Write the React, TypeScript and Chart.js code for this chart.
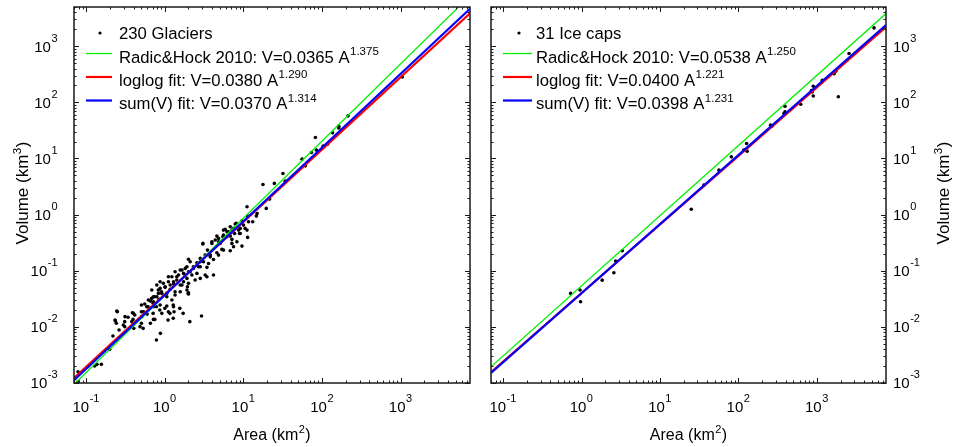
import React, { useEffect, useRef } from "react";
import { Chart, registerables } from "chart.js";

Chart.register(...registerables);

// ---------- axis limits & ticks ----------
const AREA_MIN = 0.07;
const AREA_MAX = 7600;
const VOLUME_MIN = 0.001;
const VOLUME_MAX = 5000;
const xTickExponents = [-1, 0, 1, 2, 3];
const yTickExponents = [-3, -2, -1, 0, 1, 2, 3];

// ---------- text ----------
const glacierLabel = "230 Glaciers";
const iceCapLabel = "31 Ice caps";
const fitNames = ["Radic&Hock 2010", "loglog fit", "sum(V) fit"];
const xTitleParts = ["Area (km", "2", ")"];
const yTitleParts = ["Volume (km", "3", ")"];

// ---------- fits (from legend) ----------
const glacierFitCoef = [0.0365, 0.038, 0.037];
const glacierFitExp = [1.375, 1.29, 1.314];
const iceCapFitCoef = [0.0538, 0.04, 0.0398];
const iceCapFitExp = [1.25, 1.221, 1.231];

// ---------- data: glaciers (km2, km3) ----------
const glacierArea = [
  1045, 214, 163, 163, 136, 82.2, 103, 117, 73.1, 84.5,
  55.6, 61.2, 31.8, 34.0, 17.7, 24.7, 21.5, 19.5, 11.1, 14.6,
  11.3, 11.6, 13.1, 10.0, 11.1, 11.3, 9.57, 8.09, 8.67, 7.71,
  9.1, 6.79, 7.48, 5.57, 6.17, 6.79, 5.48, 4.82, 7.13, 4.38,
  5.06, 3.97, 5.32, 6.79, 4.59, 3.49, 3.05, 3.26, 2.82, 3.78,
  3.10, 2.56, 2.82, 3.43, 4.16, 3.26, 2.31, 2.0, 2.10, 2.56,
  1.91, 1.82, 1.57, 1.73, 1.42, 1.94, 1.65, 2.0, 1.29, 1.11,
  1.17, 1.01, 0.871, 0.791, 1.06, 1.35, 1.57, 0.682, 0.828, 0.716,
  0.906, 0.746, 0.845, 0.656, 0.71, 0.612, 0.556, 0.504, 0.782, 1.0,
  0.863, 0.71, 0.596, 0.504, 0.415, 0.746, 0.656, 1.10, 1.28, 1.16,
  1.28, 1.31, 1.55, 1.71, 2.08, 1.98, 2.93, 0.879, 0.782, 0.504,
  0.53, 0.394, 0.309, 0.309, 0.262, 0.242, 0.249, 0.235, 0.341, 0.387,
  0.219, 0.403, 0.199, 0.156, 0.128, 0.137, 0.105, 0.0787, 0.0787, 14.9,
  9.57, 7.87, 7.13, 9.1, 10.5, 8.91, 6.46, 5.86, 5.57, 6.17,
  4.59, 4.82, 3.97, 3.05, 7.13, 8.26, 7.48, 5.57, 4.82, 3.78,
  4.16, 3.6, 2.82, 2.68, 2.31, 2.10, 1.91, 1.65, 2.0, 2.21,
  1.82, 1.49, 1.35, 1.23, 1.42, 1.73, 2.0, 1.57, 1.29, 1.11,
  0.959, 0.871, 1.01, 1.17, 1.35, 1.91, 2.0, 0.828, 0.916, 0.791,
  0.682, 0.716, 0.618, 0.59, 0.716, 0.871, 1.06, 1.23, 1.06, 1.29,
  1.11, 0.916, 0.535, 0.509, 0.399, 0.38, 0.312, 0.245, 0.233, 0.297,
  0.484, 0.716, 3.43, 2.82, 2.43,
];
const glacierVolume = [
  284, 57.5, 37.7, 35.1, 28.6, 23.7, 16.6, 18.0, 12.8, 14.1,
  9.73, 7.40, 5.41, 3.95, 3.45, 3.60, 1.89, 1.29, 1.38, 0.94,
  0.94, 0.745, 0.745, 0.65, 0.53, 0.393, 0.275, 0.697, 0.53, 0.462,
  0.462, 0.607, 0.568, 0.53, 0.494, 0.414, 0.403, 0.377, 0.362, 0.352,
  0.307, 0.307, 0.24, 0.227, 0.209, 0.233, 0.307, 0.19, 0.166, 0.177,
  0.145, 0.139, 0.118, 0.115, 0.0838, 0.0838, 0.118, 0.16, 0.096, 0.0897,
  0.0731, 0.110, 0.103, 0.0897, 0.0782, 0.0519, 0.0556, 0.0385, 0.0637, 0.0782,
  0.0556, 0.0519, 0.0485, 0.0556, 0.0395, 0.0369, 0.0423, 0.0453, 0.0395, 0.0344,
  0.0423, 0.0344, 0.0309, 0.0288, 0.0263, 0.0229, 0.0255, 0.0245, 0.0229, 0.0214,
  0.020, 0.0174, 0.0169, 0.0186, 0.0163, 0.0136, 0.0116, 0.0132, 0.0142, 0.0174,
  0.0245, 0.0186, 0.0214, 0.0174, 0.0124, 0.0395, 0.0156, 0.00767, 0.00583, 0.0116,
  0.00942, 0.0136, 0.0124, 0.0101, 0.00879, 0.0116, 0.0186, 0.0127, 0.0148, 0.0179,
  0.00687, 0.00942, 0.00398, 0.00215, 0.00201, 0.00215, 0.00196, 0.00159, 0.00106, 1.05,
  0.776, 0.678, 0.53, 0.568, 0.568, 0.462, 0.494, 0.546, 0.432, 0.403,
  0.414, 0.328, 0.328, 0.299, 0.307, 0.328, 0.267, 0.233, 0.19, 0.19,
  0.159, 0.135, 0.145, 0.118, 0.110, 0.145, 0.118, 0.103, 0.096, 0.0838,
  0.0838, 0.0838, 0.096, 0.0782, 0.0682, 0.0637, 0.0596, 0.0556, 0.0579, 0.0637,
  0.0596, 0.0637, 0.0506, 0.0466, 0.0423, 0.0453, 0.0406, 0.0453, 0.0395, 0.0344,
  0.0322, 0.0281, 0.0301, 0.0229, 0.0229, 0.0245, 0.0235, 0.0301, 0.0344, 0.0229,
  0.0186, 0.0174, 0.0186, 0.0152, 0.0174, 0.0124, 0.0152, 0.0191, 0.0132, 0.0108,
  0.0101, 0.0136, 0.0782, 0.0731, 0.0682,
];

// ---------- data: ice caps (km2, km3) ----------
const iceCapArea = [
  5350, 2570, 1740, 1660, 1875, 1175, 900, 871, 900, 621,
  392, 392, 380, 257, 269, 127, 117, 129, 81, 56.4,
  36.3, 25, 3.3, 2.72, 2.58, 1.83, 0.955, 0.724, 0.97, 123, 851,
];
const iceCapVolume = [
  2120, 741, 359, 324, 126, 248, 194, 153, 130, 92.7,
  85, 67.6, 63, 39.3, 38, 18.5, 14.1, 13.5, 10.7, 6.2,
  3.35, 1.25, 0.227, 0.149, 0.092, 0.068, 0.0453, 0.0395, 0.028, 14.5, 162,
];

// ---------- styles ----------
const FONT = '"Liberation Sans", Arial, Helvetica, sans-serif';
const FIT_COLORS = ["#00f000", "#ff0000", "#0000ff"];
const FIT_WIDTHS = [1.3, 2.2, 2.2];
const AXIS_COLOR = "#1a1a1a";
const TICK_FONT = 15;
const TICK_SUP = 11;
const LEGEND_FONT = 16.7;
const LEGEND_SUP = 11.5;

type Seg = { t: string; sup?: boolean };

function segsWidth(ctx: CanvasRenderingContext2D, segs: Seg[], size: number, supSize: number) {
  let w = 0;
  for (const s of segs) {
    ctx.font = `${s.sup ? supSize : size}px ${FONT}`;
    w += ctx.measureText(s.t).width + (s.sup ? 1 : 0);
  }
  return w;
}

function drawSegs(
  ctx: CanvasRenderingContext2D,
  segs: Seg[],
  x: number,
  y: number,
  size: number,
  supSize: number,
  raise: number,
  align: "left" | "center" | "right"
) {
  const w = segsWidth(ctx, segs, size, supSize);
  let cx = align === "left" ? x : align === "center" ? x - w / 2 : x - w;
  ctx.textAlign = "left";
  ctx.textBaseline = "alphabetic";
  for (const s of segs) {
    ctx.font = `${s.sup ? supSize : size}px ${FONT}`;
    ctx.fillText(s.t, cx + (s.sup ? 0.5 : 0), s.sup ? y - raise : y);
    cx += ctx.measureText(s.t).width + (s.sup ? 1 : 0);
  }
}

interface PanelSpec {
  left: number;
  width: number;
  padding: { left: number; right: number; top: number; bottom: number };
  ySide: "left" | "right";
  yLabelX: number;
  yTitleX: number;
  legendDotX: number;
  legendLineX0: number;
  legendLineX1: number;
  legendTextX: number;
  pointLabel: string;
  area: number[];
  volume: number[];
  coef: number[];
  expo: number[];
}

const LEGEND_BASELINES = [38.5, 62.5, 85.8, 109.3];
const LEGEND_LINE_Y = [33, 53.5, 77, 100.5];

function makePlugin(spec: PanelSpec) {
  return {
    id: "matlabAxes",
    afterDraw(chart: any) {
      const ctx: CanvasRenderingContext2D = chart.ctx;
      const a = chart.chartArea;
      const xs = chart.scales.x;
      const ys = chart.scales.y;
      ctx.save();
      ctx.fillStyle = "#000";
      ctx.strokeStyle = AXIS_COLOR;

      // ticks (inward, all four sides)
      ctx.lineWidth = 1;
      ctx.beginPath();
      const xLo = Math.floor(Math.log10(AREA_MIN));
      const xHi = Math.ceil(Math.log10(AREA_MAX));
      for (let e = xLo; e <= xHi; e++) {
        for (let k = 1; k <= 9; k++) {
          const v = k * Math.pow(10, e);
          if (v < AREA_MIN || v > AREA_MAX) continue;
          const px = Math.round(xs.getPixelForValue(v)) + 0.5;
          const len = k === 1 ? 5 : 2.5;
          ctx.moveTo(px, a.bottom);
          ctx.lineTo(px, a.bottom - len);
          ctx.moveTo(px, a.top);
          ctx.lineTo(px, a.top + len);
        }
      }
      const yLo = Math.floor(Math.log10(VOLUME_MIN));
      const yHi = Math.ceil(Math.log10(VOLUME_MAX));
      for (let e = yLo; e <= yHi; e++) {
        for (let k = 1; k <= 9; k++) {
          const v = k * Math.pow(10, e);
          if (v < VOLUME_MIN || v > VOLUME_MAX) continue;
          const py = Math.round(ys.getPixelForValue(v)) + 0.5;
          const len = k === 1 ? 5 : 2.5;
          ctx.moveTo(a.left, py);
          ctx.lineTo(a.left + len, py);
          ctx.moveTo(a.right, py);
          ctx.lineTo(a.right - len, py);
        }
      }
      ctx.stroke();

      // box
      ctx.lineWidth = 1.5;
      ctx.strokeRect(a.left, a.top, a.right - a.left, a.bottom - a.top);

      // x tick labels
      for (const e of xTickExponents) {
        const px = xs.getPixelForValue(Math.pow(10, e));
        drawSegs(ctx, [{ t: "10" }, { t: String(e), sup: true }], px, 411.7, TICK_FONT, TICK_SUP, 9.5, "center");
      }
      // y tick labels
      for (const e of yTickExponents) {
        const py = ys.getPixelForValue(Math.pow(10, e));
        drawSegs(
          ctx,
          [{ t: "10" }, { t: String(e), sup: true }],
          spec.yLabelX,
          py + 5.4,
          TICK_FONT,
          TICK_SUP,
          10,
          spec.ySide === "left" ? "right" : "left"
        );
      }

      // axis titles
      const xTitle: Seg[] = [{ t: xTitleParts[0] }, { t: xTitleParts[1], sup: true }, { t: xTitleParts[2] }];
      drawSegs(ctx, xTitle, (a.left + a.right) / 2, 439.5, 16, 11, 7, "center");
      const yTitle: Seg[] = [{ t: yTitleParts[0] }, { t: yTitleParts[1], sup: true }, { t: yTitleParts[2] }];
      ctx.save();
      ctx.translate(spec.yTitleX, (a.top + a.bottom) / 2 - 2);
      ctx.rotate(-Math.PI / 2);
      drawSegs(ctx, yTitle, 0, 0, 17, 11.5, 7.5, "center");
      ctx.restore();

      // legend
      ctx.fillStyle = "#000";
      ctx.beginPath();
      ctx.arc(spec.legendDotX, LEGEND_LINE_Y[0], 1.6, 0, Math.PI * 2);
      ctx.fill();
      drawSegs(ctx, [{ t: spec.pointLabel }], spec.legendTextX, LEGEND_BASELINES[0], LEGEND_FONT, LEGEND_SUP, 7.5, "left");
      for (let i = 0; i < 3; i++) {
        ctx.strokeStyle = FIT_COLORS[i];
        ctx.lineWidth = FIT_WIDTHS[i];
        ctx.beginPath();
        ctx.moveTo(spec.legendLineX0, LEGEND_LINE_Y[i + 1]);
        ctx.lineTo(spec.legendLineX1, LEGEND_LINE_Y[i + 1]);
        ctx.stroke();
        const label = `${fitNames[i]}: V=${spec.coef[i].toFixed(4)} A`;
        drawSegs(
          ctx,
          [{ t: label }, { t: spec.expo[i].toFixed(3), sup: true }],
          spec.legendTextX,
          LEGEND_BASELINES[i + 1],
          LEGEND_FONT,
          LEGEND_SUP,
          7.8,
          "left"
        );
      }
      ctx.restore();
    },
  };
}

function buildChart(canvas: HTMLCanvasElement, spec: PanelSpec) {
  const points = spec.area.map((x, i) => ({ x, y: spec.volume[i] }));
  const fitDatasets = spec.coef.map((c, i) => ({
    label: fitNames[i],
    data: [
      { x: AREA_MIN, y: c * Math.pow(AREA_MIN, spec.expo[i]) },
      { x: AREA_MAX, y: c * Math.pow(AREA_MAX, spec.expo[i]) },
    ],
    showLine: true,
    borderColor: FIT_COLORS[i],
    borderWidth: FIT_WIDTHS[i],
    pointRadius: 0,
    fill: false,
    clip: 0,
    order: 3 - i,
  }));
  return new Chart(canvas, {
    type: "scatter",
    data: {
      datasets: [
        {
          label: spec.pointLabel,
          data: points,
          pointRadius: 1.8,
          pointBackgroundColor: "#000",
          pointBorderWidth: 0,
          backgroundColor: "#000",
          borderColor: "#000",
          order: 4,
          clip: 0,
        } as any,
        ...(fitDatasets as any[]),
      ],
    },
    options: {
      animation: false,
      responsive: false,
      maintainAspectRatio: false,
      events: [],
      layout: { padding: spec.padding },
      plugins: { legend: { display: false }, tooltip: { enabled: false } },
      scales: {
        x: { type: "logarithmic", min: AREA_MIN, max: AREA_MAX, display: false },
        y: { type: "logarithmic", min: VOLUME_MIN, max: VOLUME_MAX, display: false },
      },
    } as any,
    plugins: [makePlugin(spec) as any],
  });
}

const leftSpec: PanelSpec = {
  left: 0,
  width: 480,
  padding: { left: 74, right: 10, top: 7, bottom: 64 },
  ySide: "left",
  yLabelX: 58,
  yTitleX: 28,
  legendDotX: 100,
  legendLineX0: 86,
  legendLineX1: 112,
  legendTextX: 119,
  pointLabel: glacierLabel,
  area: glacierArea,
  volume: glacierVolume,
  coef: glacierFitCoef,
  expo: glacierFitExp,
};

const rightSpec: PanelSpec = {
  left: 480,
  width: 473,
  padding: { left: 11, right: 67, top: 7, bottom: 64 },
  ySide: "right",
  yLabelX: 413,
  yTitleX: 469,
  legendDotX: 39,
  legendLineX0: 23,
  legendLineX1: 52,
  legendTextX: 56,
  pointLabel: iceCapLabel,
  area: iceCapArea,
  volume: iceCapVolume,
  coef: iceCapFitCoef,
  expo: iceCapFitExp,
};

export default function App() {
  const leftRef = useRef<HTMLCanvasElement | null>(null);
  const rightRef = useRef<HTMLCanvasElement | null>(null);

  useEffect(() => {
    const charts: Chart[] = [];
    if (leftRef.current) charts.push(buildChart(leftRef.current, leftSpec));
    if (rightRef.current) charts.push(buildChart(rightRef.current, rightSpec));
    return () => charts.forEach((c) => c.destroy());
  }, []);

  return (
    <div style={{ position: "absolute", left: 0, top: 0, width: 953, height: 447, background: "#fff" }}>
      <div style={{ position: "absolute", left: leftSpec.left, top: 0, width: leftSpec.width, height: 447 }}>
        <canvas ref={leftRef} width={leftSpec.width} height={447} style={{ display: "block" }} />
      </div>
      <div style={{ position: "absolute", left: rightSpec.left, top: 0, width: rightSpec.width, height: 447 }}>
        <canvas ref={rightRef} width={rightSpec.width} height={447} style={{ display: "block" }} />
      </div>
    </div>
  );
}
